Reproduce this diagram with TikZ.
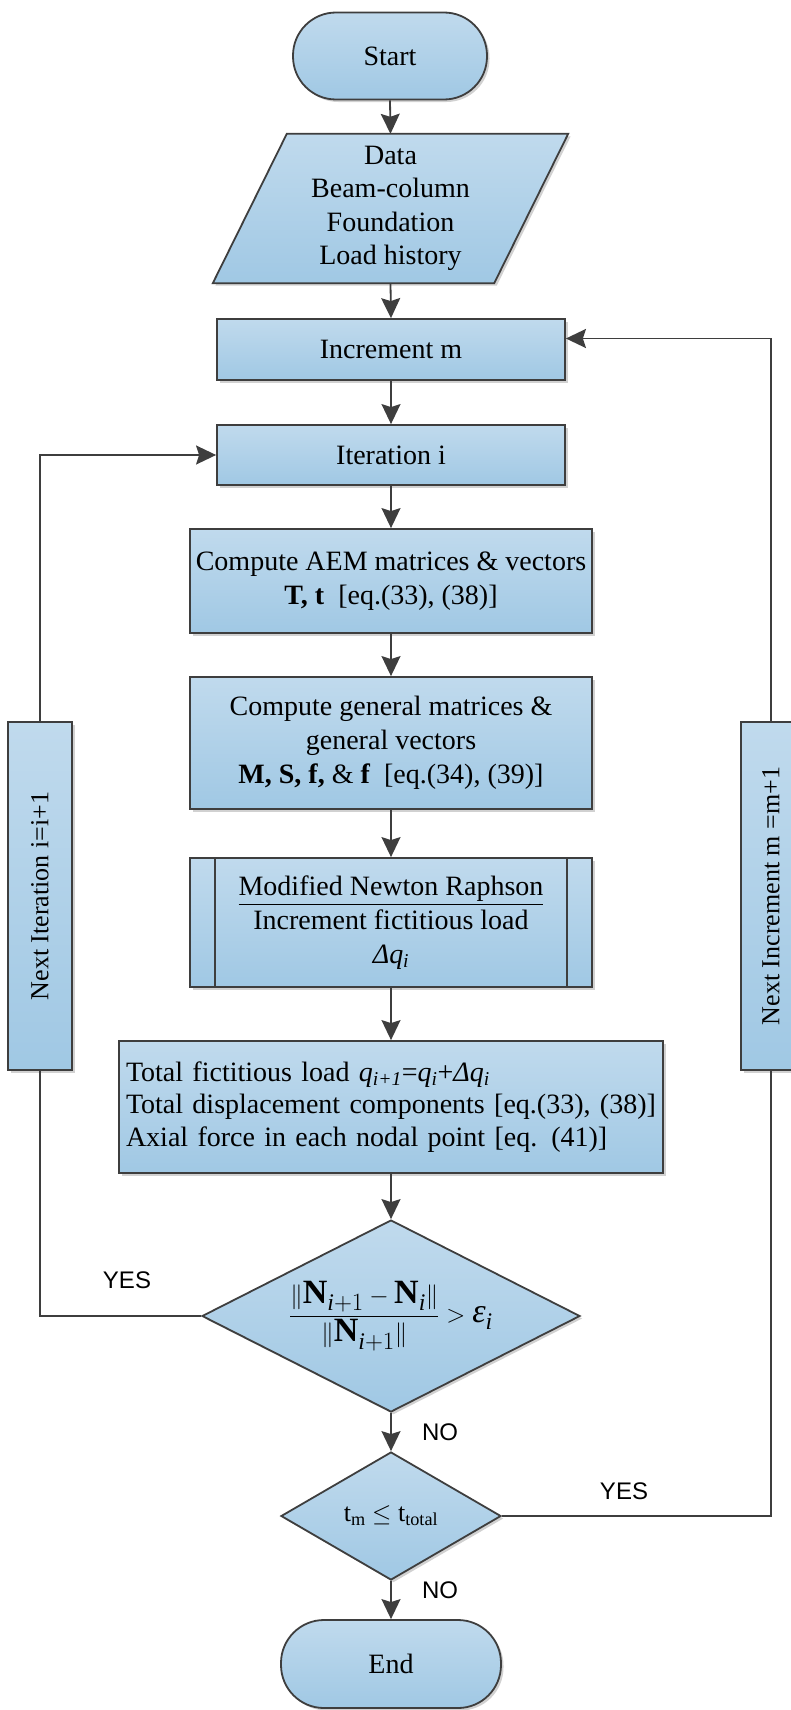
\documentclass[tikz,border=0pt]{standalone}
\usepackage{fontspec}
\usepackage{amsmath}
\usepackage{graphicx}
\setmainfont{Liberation Serif}
\setsansfont{Liberation Sans}
\usetikzlibrary{arrows.meta,shapes.geometric,shadows,backgrounds,calc}
\definecolor{fillT}{RGB}{192,218,237}
\definecolor{fillB}{RGB}{160,200,228}
\definecolor{edgec}{RGB}{62,62,62}
\begin{document}
\begin{tikzpicture}[x=1pt,y=-1pt,
  shade box/.style={draw=edgec, line width=1.8pt, top color=fillT, bottom color=fillB,
     drop shadow={shadow xshift=2.5pt,shadow yshift=-2.5pt,opacity=0.18,fill=black}},
  box/.style={shade box, rectangle, inner sep=0pt, align=center,
     font=\fontsize{28}{34}\selectfont},
  term/.style={box, rounded corners=43pt},
  decision/.style={shade box, diamond, inner sep=0pt, align=center,
     font=\fontsize{28}{34}\selectfont},
  sidebox/.style={box, font=\fontsize{26}{30}\selectfont},
  conn/.style={draw=edgec, line width=1.8pt},
  arr/.style={conn, -{Stealth[length=20pt,width=19pt,inset=3pt]}},
  lbl/.style={font=\sffamily\fontsize{24}{28}\selectfont, inner sep=0pt}
]
\useasboundingbox (0,0) rectangle (791,1710);

% main column
\node[term, minimum width=194pt, minimum height=87pt] (start) at (390,56) {Start};

\node[inner sep=0pt, minimum width=281pt, minimum height=149pt, align=center,
      font=\fontsize{28}{33.5}\selectfont] (data) at (390.5,208.5)
      {Data\\Beam-column\\Foundation\\Load history};
\begin{scope}[on background layer]
\path[shade box] ([xshift=37pt]data.north west) -- ([xshift=37pt]data.north east)
   -- ([xshift=-37pt]data.south east) -- ([xshift=-37pt]data.south west) -- cycle;
\end{scope}

\node[box, minimum width=348pt, minimum height=61pt] (incm) at (391,349.5) {Increment m};
\node[box, minimum width=348pt, minimum height=60pt] (iter) at (391,455) {Iteration i};
\node[box, minimum width=402pt, minimum height=104pt] (aem) at (391,581)
  {Compute AEM matrices \& vectors\\\textbf{T, t}~~[eq.(33), (38)]};
\node[box, minimum width=402pt, minimum height=132pt] (gen) at (391,743)
  {Compute general matrices \&\\general vectors\\\textbf{M, S, f,} \& \textbf{f}~~[eq.(34), (39)]};
\node[box, minimum width=402pt, minimum height=129pt] (nr) at (391,922.5)
  {\underline{Modified Newton Raphson}\\Increment fictitious load\\\textit{Δq}\textsubscript{\textit{i}}};
\draw[conn] ([xshift=26pt]nr.north west) -- ([xshift=26pt]nr.south west);
\draw[conn] ([xshift=-26pt]nr.north east) -- ([xshift=-26pt]nr.south east);

\node[box, minimum width=544pt, minimum height=132pt, text width=530pt, align=left,
      font=\fontsize{28}{32.5}\selectfont] (tot) at (391,1107)
  {Total fictitious load \textit{q}\textsubscript{\textit{i+1}}=\textit{q}\textsubscript{\textit{i}}+\textit{Δq}\textsubscript{\textit{i}}\\
   Total displacement components [eq.(33), (38)]\\
   Axial force in each nodal point [eq. (41)]};

\node[decision, aspect=1.97, minimum width=378pt, minimum height=192pt,
      font=\fontsize{34}{40}\selectfont] (d1) at (391,1316)
  {$\dfrac{\lVert\textbf{N}_{\textit{i}+1}-\textbf{N}_{\textit{i}}\rVert}{\lVert\textbf{N}_{\textit{i}+1}\rVert}>\textit{ε}_{\textit{i}}$};
\node[decision, aspect=1.72, minimum width=220pt, minimum height=128pt, font=\fontsize{26}{30}\selectfont] (d2) at (391,1516)
  {t\textsubscript{m}~$\leq$~t\textsubscript{total}};
\node[term, minimum width=220pt, minimum height=88pt] (endn) at (391,1664) {End};

% side boxes
\node[sidebox, minimum width=64pt, minimum height=348pt] (nit) at (40,896)
  {\rotatebox{90}{Next Iteration i=i+1}};
\node[sidebox, minimum width=60pt, minimum height=348pt] (ninc) at (771,896)
  {\rotatebox{90}{Next Increment m =m+1}};

% connectors
\draw[arr] (start.south) -- (data.north);
\draw[arr] (data.south) -- (incm.north);
\draw[arr] (incm.south) -- (iter.north);
\draw[arr] (iter.south) -- (aem.north);
\draw[arr] (aem.south) -- (gen.north);
\draw[arr] (gen.south) -- (nr.north);
\draw[arr] (nr.south) -- (tot.north);
\draw[arr] (tot.south) -- (d1.north);
\draw[arr] (d1.south) -- (d2.north);
\draw[arr] (d2.south) -- (endn.north);

\draw[conn] (d1.west) -| (nit.south);
\draw[arr] (nit.north) |- (iter.west);
\draw[conn] (d2.east) -| (ninc.south);
\draw[arr] (ninc.north) |- ([yshift=11pt]incm.east);

% labels
\node[lbl] (yes1) at (127,1280) {YES};
\node[lbl] (no1) at (440,1432) {NO};
\node[lbl] (yes2) at (624,1491) {YES};
\node[lbl] (no2) at (440,1590) {NO};
\end{tikzpicture}
\end{document}
